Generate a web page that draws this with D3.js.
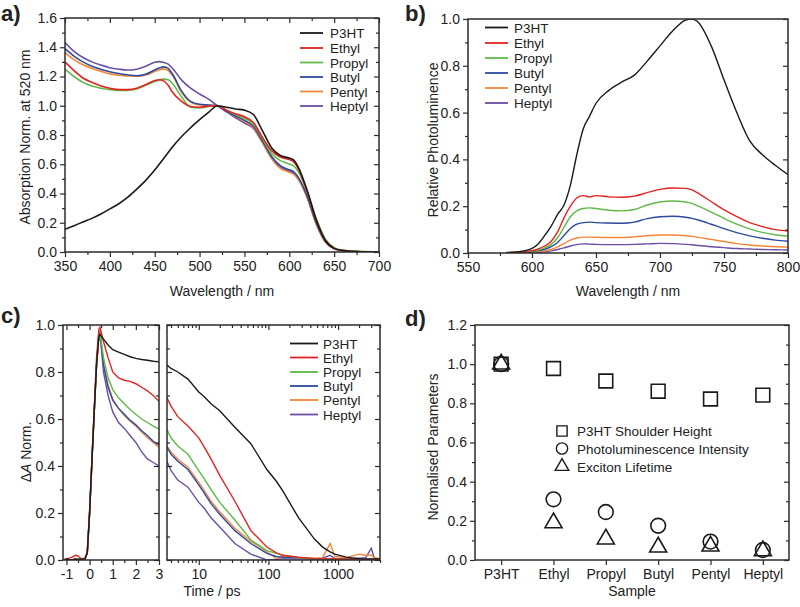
<!DOCTYPE html>
<html><head><meta charset="utf-8">
<script src="https://cdn.jsdelivr.net/npm/d3@7"></script>
<style>body{margin:0;background:#fff}svg{display:block}</style>
</head><body><svg id="chart" width="800" height="607"></svg>
<script>
// ---------- DATA ----------
const seriesNames = ['P3HT','Ethyl','Propyl','Butyl','Pentyl','Heptyl'];
const seriesColors = ['#1a1a1a','#e3231f','#5fb946','#2c4a9e','#f4873a','#6a4ea4'];

// a) absorption
const absWl = [350,360,370,380,390,400,410,420,430,440,450,455,460,465,470,480,490,500,510,520,530,540,550,560,570,580,590,600,605,610,620,630,640,650,660,680,700];
const absP3HT   = [.155,.18,.205,.23,.26,.295,.33,.375,.43,.49,.56,.60,.64,.68,.72,.79,.85,.905,.955,1.0,.99,.978,.97,.94,.83,.715,.66,.642,.628,.58,.42,.22,.08,.025,.01,.002,0];
const absEthyl  = [1.30,1.24,1.19,1.16,1.135,1.12,1.11,1.11,1.12,1.145,1.172,1.178,1.17,1.14,1.09,1.03,.995,.99,.998,1.0,.97,.945,.925,.885,.785,.695,.65,.632,.615,.57,.41,.22,.08,.025,.01,.002,0];
const absPropyl = [1.25,1.20,1.16,1.135,1.12,1.11,1.105,1.105,1.115,1.14,1.165,1.175,1.182,1.178,1.15,1.06,.99,.985,.995,1.0,.97,.94,.915,.875,.775,.675,.625,.602,.588,.55,.41,.23,.09,.03,.012,.004,.001];
const absButyl  = [1.39,1.34,1.30,1.27,1.25,1.232,1.22,1.21,1.205,1.215,1.245,1.258,1.266,1.255,1.215,1.10,1.03,1.01,1.005,1.0,.962,.93,.90,.86,.76,.655,.59,.562,.548,.51,.38,.20,.075,.025,.01,.002,0];
const absPentyl = [1.365,1.315,1.28,1.255,1.235,1.218,1.208,1.203,1.202,1.21,1.235,1.246,1.252,1.24,1.205,1.09,1.025,1.005,1.003,1.0,.962,.926,.893,.85,.75,.64,.572,.545,.53,.495,.37,.19,.07,.022,.008,.002,0];
const absHeptyl = [1.432,1.372,1.33,1.30,1.278,1.26,1.25,1.244,1.25,1.27,1.297,1.302,1.296,1.285,1.255,1.175,1.12,1.08,1.045,1.0,.958,.918,.882,.845,.75,.648,.58,.555,.54,.505,.375,.195,.072,.022,.008,.002,0];

// b) photoluminescence
const plWl = [580,590,600,605,610,615,620,625,630,635,640,645,650,660,670,680,690,700,710,720,725,730,740,750,760,770,780,790,800];
const plP3HT   = [.002,.006,.02,.04,.075,.115,.165,.205,.29,.42,.53,.585,.64,.695,.73,.76,.82,.885,.95,.995,1.0,.985,.885,.74,.60,.48,.42,.375,.335];
const plEthyl  = [.001,.004,.01,.018,.03,.05,.09,.15,.20,.235,.245,.24,.245,.24,.238,.243,.258,.272,.278,.276,.27,.255,.22,.185,.155,.13,.113,.10,.094];
const plPropyl = [.001,.003,.008,.013,.022,.037,.065,.11,.155,.18,.19,.193,.19,.183,.18,.186,.205,.218,.222,.218,.212,.20,.175,.148,.123,.103,.088,.078,.072];
const plButyl  = [.001,.002,.006,.01,.016,.027,.045,.075,.105,.123,.13,.132,.13,.128,.127,.132,.147,.155,.157,.153,.148,.141,.123,.104,.087,.073,.063,.055,.05];
const plPentyl = [0,.001,.003,.005,.009,.015,.026,.04,.055,.064,.068,.068,.067,.066,.066,.069,.074,.077,.077,.074,.071,.067,.058,.049,.04,.034,.03,.027,.025];
const plHeptyl = [0,.001,.002,.003,.005,.009,.015,.022,.03,.036,.039,.038,.037,.036,.036,.037,.039,.041,.04,.037,.035,.032,.027,.023,.019,.017,.015,.014,.013];

// c) transient absorption, early times (linear) and late times (log)
const taEarlyT = [-1.15,-1,-0.8,-0.6,-0.5,-0.4,-0.2,-0.1,0,0.1,0.2,0.3,0.4,0.45,0.6,0.8,1.0,1.25,1.5,1.75,2.0,2.25,2.5,2.75,3.0];
const taEarlyP3HT   = [0,.003,0,.004,.002,.003,.005,.03,.2,.42,.63,.83,.95,.96,.94,.915,.895,.885,.875,.865,.858,.853,.85,.846,.843];
const taEarlyEthyl  = [0,.005,.01,.02,.018,.008,.005,.035,.21,.43,.65,.86,.98,.99,.93,.86,.80,.775,.765,.76,.75,.735,.72,.70,.675];
const taEarlyPropyl = [0,.002,0,.003,.002,.003,.005,.03,.2,.42,.63,.83,.96,.97,.86,.775,.725,.69,.665,.64,.62,.60,.585,.57,.557];
const taEarlyButyl  = [0,.002,0,.003,.002,.003,.005,.03,.2,.42,.63,.83,.96,.97,.83,.735,.68,.645,.62,.595,.575,.55,.53,.505,.49];
const taEarlyPentyl = [0,.002,0,.003,.002,.003,.005,.03,.2,.42,.63,.83,.96,.97,.83,.745,.685,.645,.615,.59,.57,.545,.52,.50,.48];
const taEarlyHeptyl = [0,.002,0,.003,.002,.003,.005,.03,.2,.42,.63,.83,.95,.96,.80,.70,.63,.585,.56,.53,.50,.46,.43,.415,.40];
const taLateT = [3.5,4,5,7,10,12,15,20,33,56,95,130,160,270,455,600,770,900,1300,2000,2500,3000,3300,4000];
const taLateP3HT   = [.83,.815,.80,.77,.715,.695,.665,.635,.565,.495,.385,.335,.295,.18,.09,.055,.035,.025,.012,.006,.005,.005,.005,.005];
const taLateEthyl  = [.69,.655,.61,.57,.52,.48,.43,.36,.25,.125,.055,.03,.02,.012,.006,.005,.004,.004,.003,.002,.002,.002,.002,.001];
const taLatePropyl = [.555,.52,.485,.45,.38,.345,.30,.245,.17,.085,.04,.028,.02,.01,.005,.005,.004,.003,.003,.002,.002,.002,.002,.001];
const taLateButyl  = [.48,.45,.42,.385,.32,.285,.24,.195,.125,.07,.028,.015,.012,.01,.004,.004,.003,.003,.002,.002,.001,.001,.001,0];
const taLatePentyl = [.485,.46,.43,.395,.33,.295,.25,.205,.135,.08,.035,.005,.015,.01,.008,.01,.07,.015,.01,.025,.02,.02,.01,.005];
const taLateHeptyl = [.42,.38,.34,.31,.245,.22,.18,.14,.07,.025,0,.002,.005,.005,.005,.008,.02,.005,.005,.008,.01,.05,.01,0];

// d) normalised parameters
const samples = ['P3HT','Ethyl','Propyl','Butyl','Pentyl','Heptyl'];
const shoulderHeight = [1.0,0.978,0.914,0.862,0.822,0.842];
const plIntensity    = [1.0,0.31,0.245,0.175,0.094,0.051];
const excitonLifetime= [1.0,0.19,0.107,0.066,0.071,0.047];
const dLegend = ['P3HT Shoulder Height','Photoluminescence Intensity','Exciton Lifetime'];

// ---------- DRAWING ----------
const FONT = '"Liberation Sans", Arial, Helvetica, sans-serif';
const AX = '#2b2b2b';
const TXT = '#222';
const svg = d3.select('#chart');

function styleAxis(a){
  a.select('.domain').remove();
  a.selectAll('line').attr('stroke',AX).attr('stroke-width',1.2);
  a.selectAll('text').attr('font-size',14).attr('fill',TXT).attr('font-family',FONT);
}
function addAxis(gen, tx, ty){
  const a = svg.append('g').attr('transform',`translate(${tx},${ty})`).call(gen);
  styleAxis(a); return a;
}
function box(x0,x1,yt,yb){
  svg.append('rect').attr('x',x0).attr('y',yt).attr('width',x1-x0).attr('height',yb-yt)
    .attr('fill','none').attr('stroke',AX).attr('stroke-width',1.5);
}
function clip(id,x0,x1,yt,yb){
  svg.append('clipPath').attr('id',id).append('rect').attr('x',x0).attr('y',yt).attr('width',x1-x0).attr('height',yb-yt);
  return `url(#${id})`;
}
function text(str,x,y,opts={}){
  const t = svg.append('text').attr('x',x).attr('y',y).text(str)
    .attr('font-family',FONT).attr('font-size',opts.size||14).attr('fill',TXT)
    .attr('text-anchor',opts.anchor||'start');
  if(opts.weight) t.attr('font-weight',opts.weight);
  if(opts.rotate) t.attr('transform',`rotate(-90,${x},${y})`);
  return t;
}
const fmt1 = d3.format('.1f');
const yMaj = (max)=>d3.range(0, Math.round(max*5)+1).map(i=>i/5);
const yMin = (max)=>d3.range(0, Math.round(max*5)).map(i=>i/5+0.1);

function yAxes(y, x0, x1, max){
  addAxis(d3.axisLeft(y).tickValues(yMaj(max)).tickFormat(fmt1).tickSize(5).tickPadding(3), x0, 0);
  addAxis(d3.axisLeft(y).tickValues(yMin(max)).tickFormat('').tickSize(3), x0, 0);
  addAxis(d3.axisRight(y).tickValues(yMaj(max)).tickFormat('').tickSize(-5), x1, 0);
  addAxis(d3.axisRight(y).tickValues(yMin(max)).tickFormat('').tickSize(-3), x1, 0);
}
function legendLines(x0, x1, tx, ys){
  seriesNames.forEach((n,i)=>{
    svg.append('line').attr('x1',x0).attr('x2',x1).attr('y1',ys[i]).attr('y2',ys[i])
      .attr('stroke',seriesColors[i]).attr('stroke-width',1.8);
    text(n, tx, ys[i]+5, {size:13.5});
  });
}

// ---- panel a ----
{
  const x = d3.scaleLinear([350,700],[65,379]);
  const y = d3.scaleLinear([0,1.6],[252,18]);
  const cp = clip('ca',65,379,18,252);
  const ser = [absP3HT,absEthyl,absPropyl,absButyl,absPentyl,absHeptyl];
  const line = d3.line().x((d,i)=>x(absWl[i])).y(d=>y(d)).curve(d3.curveMonotoneX);
  [5,4,3,2,1,0].forEach(i=>{
    svg.append('path').attr('d',line(ser[i])).attr('fill','none').attr('stroke',seriesColors[i])
      .attr('stroke-width',1.6).attr('clip-path',cp);
  });
  box(65,379,18,252);
  addAxis(d3.axisBottom(x).tickValues(d3.range(350,701,50)).tickFormat(d=>d).tickSize(5).tickPadding(4),0,252);
  addAxis(d3.axisBottom(x).tickValues(d3.range(375,700,50)).tickFormat('').tickSize(3),0,252);
  addAxis(d3.axisTop(x).tickValues(d3.range(350,701,50)).tickFormat('').tickSize(-5),0,18);
  addAxis(d3.axisTop(x).tickValues(d3.range(375,700,50)).tickFormat('').tickSize(-3),0,18);
  yAxes(y,65,379,1.6);
  legendLines(300,323,330,[33,48,62.5,77,91.5,106]);
  text('Wavelength / nm',222,296,{anchor:'middle'});
  text('Absorption Norm. at 520 nm',30,137,{anchor:'middle',rotate:true});
  text('a)',1,21,{size:22,weight:'bold'});
}

// ---- panel b ----
{
  const x = d3.scaleLinear([550,800],[468,788]);
  const y = d3.scaleLinear([0,1],[253,19]);
  const cp = clip('cb',468,788,19,253);
  const ser = [plP3HT,plEthyl,plPropyl,plButyl,plPentyl,plHeptyl];
  const line = d3.line().x((d,i)=>x(plWl[i])).y(d=>y(d)).curve(d3.curveMonotoneX);
  [5,4,3,2,1,0].forEach(i=>{
    svg.append('path').attr('d',line(ser[i])).attr('fill','none').attr('stroke',seriesColors[i])
      .attr('stroke-width',1.4).attr('clip-path',cp);
  });
  box(468,788,19,253);
  addAxis(d3.axisBottom(x).tickValues(d3.range(550,801,50)).tickFormat(d=>d).tickSize(5).tickPadding(4),0,253);
  addAxis(d3.axisBottom(x).tickValues(d3.range(575,800,50)).tickFormat('').tickSize(3),0,253);
  yAxes(y,468,788,1.0);
  legendLines(485,508,514,[27.5,43,58,73,88,103]);
  text('Wavelength / nm',628,296,{anchor:'middle'});
  text('Relative Photoluminence',438,140,{anchor:'middle',rotate:true});
  text('b)',405,21,{size:22,weight:'bold'});
}

// ---- panel c ----
{
  const xl = d3.scaleLinear([-1.15,3],[63,159]);
  const xr = d3.scaleLog([3.5,4000],[167,380]);
  const y = d3.scaleLinear([0,1],[560,325]);
  const cpl = clip('ccl',63,159,325,560);
  const cpr = clip('ccr',167,380,325,560);
  const early = [taEarlyP3HT,taEarlyEthyl,taEarlyPropyl,taEarlyButyl,taEarlyPentyl,taEarlyHeptyl];
  const late = [taLateP3HT,taLateEthyl,taLatePropyl,taLateButyl,taLatePentyl,taLateHeptyl];
  const ll = d3.line().x((d,i)=>xl(taEarlyT[i])).y(d=>y(d));
  const lr = d3.line().x((d,i)=>xr(taLateT[i])).y(d=>y(d));
  [5,4,3,2,1,0].forEach(i=>{
    svg.append('path').attr('d',ll(early[i])).attr('fill','none').attr('stroke',seriesColors[i])
      .attr('stroke-width',1.4).attr('clip-path',cpl);
    svg.append('path').attr('d',lr(late[i])).attr('fill','none').attr('stroke',seriesColors[i])
      .attr('stroke-width',1.4).attr('clip-path',cpr);
  });
  box(63,159,325,560);
  box(167,380,325,560);
  // left sub-panel
  addAxis(d3.axisBottom(xl).tickValues([-1,0,1,2,3]).tickFormat(d=>String(d)).tickSize(5).tickPadding(4),0,560);
  addAxis(d3.axisBottom(xl).tickValues([-0.5,0.5,1.5,2.5]).tickFormat('').tickSize(3),0,560);
  addAxis(d3.axisTop(xl).tickValues([-1,0,1,2,3]).tickFormat('').tickSize(-5),0,325);
  addAxis(d3.axisTop(xl).tickValues([-0.5,0.5,1.5,2.5]).tickFormat('').tickSize(-3),0,325);
  yAxes(y,63,159,1.0);
  // right sub-panel
  const rMinor = [4,5,6,7,8,9,20,30,40,50,60,70,80,90,200,300,400,500,600,700,800,900,2000,3000,4000];
  addAxis(d3.axisBottom(xr).tickValues([10,100,1000]).tickFormat(d=>String(d)).tickSize(5).tickPadding(4),0,560);
  addAxis(d3.axisBottom(xr).tickValues(rMinor).tickFormat('').tickSize(3),0,560);
  addAxis(d3.axisTop(xr).tickValues([10,100,1000]).tickFormat('').tickSize(-5),0,325);
  addAxis(d3.axisTop(xr).tickValues(rMinor).tickFormat('').tickSize(-3),0,325);
  addAxis(d3.axisRight(y).tickValues(yMaj(1)).tickFormat('').tickSize(5),167,0);
  addAxis(d3.axisRight(y).tickValues(yMin(1)).tickFormat('').tickSize(3),167,0);
  addAxis(d3.axisRight(y).tickValues(yMaj(1)).tickFormat('').tickSize(-5),380,0);
  addAxis(d3.axisRight(y).tickValues(yMin(1)).tickFormat('').tickSize(-3),380,0);
  legendLines(290,318,323,[343.5,357.5,372,386,400,414.5]);
  text('Time / ps',212,596,{anchor:'middle'});
  const t = svg.append('text').attr('transform','translate(31,452) rotate(-90)')
    .attr('text-anchor','middle').attr('font-family',FONT).attr('font-size',14).attr('fill',TXT);
  t.append('tspan').text('\u0394');
  t.append('tspan').attr('font-style','italic').text('A');
  t.append('tspan').text(' Norm.');
  text('c)',1,323,{size:22,weight:'bold'});
}

// ---- panel d ----
{
  const x = d3.scalePoint().domain(samples).range([475,789]).padding(0.5);
  const y = d3.scaleLinear([0,1.2],[560,325]);
  box(475,789,325,560);
  addAxis(d3.axisBottom(x).tickSize(5).tickPadding(4),0,560);
  yAxes(y,475,789,1.2);
  const sq = d3.symbol().type(d3.symbolSquare).size(190);
  const ci = d3.symbol().type(d3.symbolCircle).size(170);
  const tr = d3.symbol().type(d3.symbolTriangle).size(125);
  const mk = (vals, gen)=>{
    svg.append('g').selectAll('path').data(vals).join('path')
      .attr('d',gen()).attr('transform',(d,i)=>`translate(${x(samples[i])},${y(d)})`)
      .attr('fill','none').attr('stroke','#1a1a1a').attr('stroke-width',1.6);
  };
  mk(shoulderHeight, sq);
  mk(plIntensity, ci);
  mk(excitonLifetime, tr);
  const lg = [[d3.symbol().type(d3.symbolSquare).size(105),431],[d3.symbol().type(d3.symbolCircle).size(100),448.5],[d3.symbol().type(d3.symbolTriangle).size(80),466.5]];
  lg.forEach((l,i)=>{
    svg.append('path').attr('d',l[0]()).attr('transform',`translate(562,${l[1]})`)
      .attr('fill','none').attr('stroke','#1a1a1a').attr('stroke-width',1.4);
    text(dLegend[i],577,l[1]+5,{size:13.5});
  });
  text('Sample',632,596,{anchor:'middle'});
  text('Normalised Parameters',438,447,{anchor:'middle',rotate:true});
  text('d)',405,326,{size:22,weight:'bold'});
}
</script></body></html>
